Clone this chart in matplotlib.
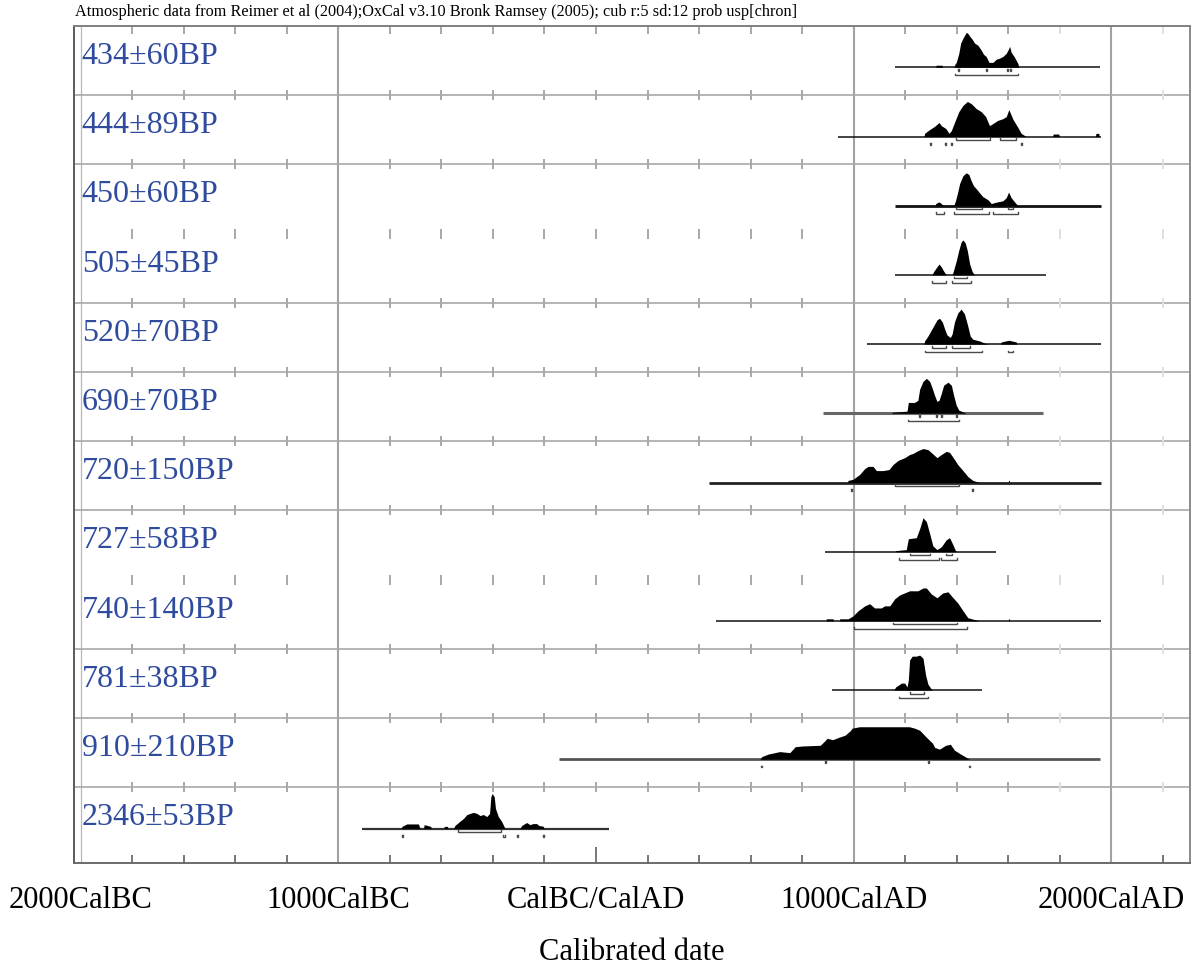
import matplotlib
matplotlib.use("Agg")
import matplotlib.pyplot as plt

# ---------------- data ----------------
labels = ["434±60BP", "444±89BP", "450±60BP", "505±45BP", "520±70BP", "690±70BP",
          "720±150BP", "727±58BP", "740±140BP", "781±38BP", "910±210BP", "2346±53BP"]

d434_years = [1318, 1320, 1343, 1345, 1389, 1393, 1398, 1408, 1415, 1424, 1437, 1443, 1450, 1460,
              1469, 1482, 1495, 1504, 1514, 1525, 1540, 1553, 1566, 1579, 1592, 1600, 1605, 1611,
              1624, 1637, 1641]
d434_prob = [0, .06, .06, 0, 0, .09, .14, .40, .69, .83, 1.0, .97, .89, .80,
             .69, .63, .49, .37, .31, .14, .14, .23, .26, .31, .40, .51, .60, .43,
             .29, .11, 0]

d444_years = [1273, 1275, 1295, 1314, 1331, 1340, 1357, 1370, 1379, 1391, 1408, 1424, 1441, 1456,
              1475, 1495, 1512, 1527, 1540, 1559, 1579, 1592, 1602, 1618, 1637, 1650, 1669,
              1772, 1774, 1796, 1798, 1938, 1940, 1951, 1953]
d444_prob = [0, .09, .20, .29, .40, .31, .23, .09, .17, .40, .71, .89, 1.0, .94,
             .80, .71, .57, .31, .37, .46, .51, .57, .77, .49, .26, .09, 0,
             0, .07, .07, 0, 0, .09, .09, 0]

d450_years = [1316, 1318, 1331, 1340, 1349, 1388, 1395, 1404, 1411, 1424, 1437, 1447, 1456, 1465,
              1475, 1488, 1501, 1521, 1534, 1547, 1559, 1579, 1592, 1601, 1611, 1624, 1637]
d450_prob = [0, .06, .11, .06, 0, 0, .14, .40, .63, .86, .94, .89, .71, .57,
             .49, .37, .26, .17, .06, .09, .11, .14, .23, .39, .23, .11, 0]

d505_years = [1304, 1310, 1320, 1331, 1340, 1349, 1359, 1382, 1388, 1398, 1408, 1417, 1424, 1433,
              1441, 1450, 1460, 1469]
d505_prob = [0, .09, .20, .31, .23, .11, 0, 0, .14, .40, .71, .94, 1.0, .91,
             .69, .31, .09, 0]

d520_years = [1273, 1275, 1288, 1301, 1314, 1323, 1333, 1344, 1353, 1362, 1375, 1382, 1391, 1404,
              1417, 1430, 1443, 1452, 1462, 1488, 1508, 1525, 1570, 1572, 1602, 1631, 1633]
d520_prob = [0, .09, .23, .40, .57, .69, .74, .63, .43, .26, .19, .29, .63, .89,
             1.0, .86, .51, .23, .14, .09, .03, 0, 0, .06, .11, .06, 0]

d690_years = [1148, 1150, 1207, 1212, 1236, 1249, 1256, 1269, 1282, 1295, 1305, 1314, 1323, 1331,
              1340, 1349, 1366, 1379, 1388, 1398, 1408, 1437]
d690_prob = [0, .03, .06, .31, .31, .37, .69, .91, 1.0, .91, .71, .51, .34, .37,
             .57, .80, .89, .80, .51, .23, .09, 0]

d720_years = [976, 978, 997, 1023, 1043, 1056, 1075, 1088, 1114, 1137, 1152, 1172, 1198, 1217,
              1230, 1249, 1269, 1288, 1305, 1323, 1340, 1359, 1372, 1388, 1404, 1424, 1443, 1462,
              1488, 1600, 1601, 1604, 1605]
d720_prob = [0, .06, .09, .23, .40, .46, .46, .34, .34, .37, .51, .63, .71, .80,
             .83, .91, .97, .94, .83, .71, .80, .89, .86, .69, .51, .34, .17, .06,
             0, 0, .06, .06, 0]

d727_years = [1159, 1163, 1204, 1212, 1243, 1256, 1269, 1282, 1295, 1307, 1323, 1340, 1359, 1372,
              1385, 1395, 1400]
d727_prob = [0, .03, .06, .37, .40, .66, .97, .86, .51, .17, .06, .14, .34, .40,
             .20, .03, 0]

d740_years = [892, 894, 920, 922, 944, 946, 978, 997, 1017, 1043, 1062, 1081, 1107, 1120,
              1140, 1159, 1178, 1217, 1249, 1269, 1282, 1301, 1323, 1346, 1366, 1382, 1404, 1424,
              1443, 1488, 1600, 1601, 1604, 1605]
d740_prob = [0, .06, .06, 0, 0, .06, .06, .14, .29, .43, .49, .37, .37, .43,
             .43, .63, .74, .86, .86, .94, .94, .77, .66, .80, .83, .69, .51, .29,
             .09, 0, 0, .06, .06, 0]

d781_years = [1155, 1163, 1185, 1198, 1207, 1212, 1217, 1227, 1243, 1256, 1269, 1279, 1288, 1301,
              1305]
d781_prob = [0, .09, .20, .20, .09, .29, .86, .97, .97, 1.0, .91, .43, .17, .03,
             0]

d910_years = [636, 644, 669, 713, 752, 773, 800, 870, 883, 897, 918, 943, 967, 987,
              994, 1022, 1216, 1236, 1256, 1282, 1306, 1314, 1333, 1357, 1375, 1391, 1417, 1450]
d910_prob = [0, .08, .15, .22, .19, .36, .38, .40, .49, .60, .56, .63, .69, .82,
             .89, .93, .93, .89, .83, .63, .46, .34, .29, .40, .43, .26, .14, 0]

d2346_years = [-755, -753, -734, -689, -683, -669, -667, -641, -639, -590, -589, -576, -575,
               -553, -547, -534, -514, -501, -476, -462, -450, -437, -424, -413, -408, -403,
               -395, -390, -379, -366, -359, -353, -295, -288, -269, -256, -245, -230, -223,
               -204, -202]
d2346_prob = [0, .06, .13, .13, 0, 0, .11, .06, 0, 0, .06, .06, 0,
              0, .09, .17, .29, .40, .46, .43, .37, .40, .34, .43, .91, 1.0,
              .91, .57, .34, .20, .09, 0, 0, .09, .17, .11, .14, .14, .09,
              .06, 0]

curve_years = [d434_years, d444_years, d450_years, d505_years, d520_years, d690_years,
               d720_years, d727_years, d740_years, d781_years, d910_years, d2346_years]
curve_prob = [d434_prob, d444_prob, d450_prob, d505_prob, d520_prob, d690_prob,
              d720_prob, d727_prob, d740_prob, d781_prob, d910_prob, d2346_prob]

# extent of the horizontal line under each distribution (years)
line_start = [1159, 938, 1159, 1159, 1052, 881, 439, 888, 465, 916, -145, -908]
line_end = [1957, 1960, 1960, 1747, 1960, 1733, 1960, 1553, 1960, 1499, 1957, 52]

# ranges (upper and lower bracket rows)
ranges_68 = [
    [(1405, 1409), (1513, 1517), (1595, 1599), (1606, 1610)],
    [(1396, 1527), (1566, 1631)],
    [(1396, 1498), (1599, 1617)],
    [(1388, 1440)],
    [(1304, 1359), (1382, 1452)],
    [(1254, 1258), (1320, 1324), (1338, 1342), (1396, 1400)],
    [(1159, 1408)],
    [(1217, 1298), (1359, 1382)],
    [(1152, 1400)],
    [(1218, 1273)],
    [(888, 892), (1287, 1291)],
    [(-535, -370)],
]
ranges_95 = [
    [(1395, 1636)],
    [(1295, 1299), (1355, 1359), (1377, 1381), (1648, 1652)],
    [(1318, 1350), (1390, 1525), (1542, 1637)],
    [(1304, 1359), (1381, 1456)],
    [(1275, 1498), (1599, 1617)],
    [(1212, 1408)],
    [(989, 993), (1460, 1464)],
    [(1175, 1331), (1338, 1400)],
    [(1001, 1440)],
    [(1176, 1288)],
    [(642, 646), (1447, 1451)],
    [(-751, -747), (-359, -355), (-307, -303), (-204, -200)],
]

tick_positions = [-2000, -1000, 0, 1000, 2000]
tick_labels = ["2000CalBC", "1000CalBC", "CalBC/CalAD", "1000CalAD", "2000CalAD"]
title_text = ("Atmospheric data from Reimer et al (2004);OxCal v3.10 Bronk Ramsey (2005); "
              "cub r:5 sd:12 prob usp[chron]")
xlabel_text = "Calibrated date"

# ---------------- styles ----------------
line_width = [1.1, 1.1, 2.0, 1.1, 1.1, 2.2, 2.0, 1.1, 1.1, 1.1, 2.0, 1.6]
line_color = ["#111111", "#111111", "#111111", "#111111", "#111111", "#666666",
              "#222222", "#111111", "#111111", "#111111", "#555555", "#333333"]
no_line_separators = [3, 8]
SERIF = ["Liberation Serif", "DejaVu Serif"]
BLUE = "#2f4b9e"

W, H = 1193, 974
TOP, BOT, LEFT, RIGHT = 26.0, 862.7, 74.3, 1190.0
ROW = 69.2
PXY = 1.0 / ROW  # one pixel in row units

fig = plt.figure(figsize=(W / 100, H / 100), dpi=100)
ax = fig.add_axes([LEFT / W, 1 - BOT / H, (RIGHT - LEFT) / W, (BOT - TOP) / H])
ax.set_xlim((LEFT - 596) / 0.2577, (RIGHT - 596) / 0.2577)
ymax = (BOT - TOP) / ROW
ax.set_ylim(ymax, 0)

# vertical grid lines
ax.axvline(-2000, color="#b8b8b8", lw=0.9, zorder=1)
for xv in (-1000, 1000, 2000):
    ax.axvline(xv, color="#a2a2a2", lw=1.5, zorder=1)

minor = list(range(-1800, 2201, 200))
minor = [m for m in minor if m not in (-1000, 1000, 2000)]

# horizontal separators with tick marks
for k in range(0, 12):
    if k > 0 and k not in no_line_separators:
        ax.axhline(k, color="#a8a8a8", lw=1.2, zorder=1)
    for m in minor:
        c = "#e0e0e0" if m in (1800, 2200) else "#a8a8a8"
        if k == 0:
            ax.plot([m, m], [0, 8 * PXY], color=c, lw=1.4, zorder=1, solid_capstyle="butt")
        else:
            ax.plot([m, m], [k - 5 * PXY, k + 5 * PXY], color=c, lw=1.4, zorder=1,
                    solid_capstyle="butt")

# bottom ticks
for m in minor:
    ln = 16 if m == 0 else 8
    ax.plot([m, m], [ymax, ymax - ln * PXY], color="#777777", lw=1.4, zorder=1,
            solid_capstyle="butt")

# distributions
for i in range(12):
    base = i + 41.3 * PXY
    ax.plot([line_start[i], line_end[i]], [base, base], color=line_color[i],
            lw=line_width[i], zorder=2, solid_capstyle="butt")
    ys = [base - p * 35 * PXY for p in curve_prob[i]]
    ax.fill_between(curve_years[i], base, ys, color="black", lw=0, zorder=3)
    for lvl, rr in ((3.5, ranges_68[i]), (8.0, ranges_95[i])):
        y = base + lvl * PXY
        for a, b in rr:
            ax.plot([a, a, b, b], [y - 1.6 * PXY, y, y, y - 1.6 * PXY], color="#4a4a4a",
                    lw=1.0, zorder=3, solid_joinstyle="miter")
    ax.text((81.7 - 596) / 0.2577, i + 38 * PXY, labels[i], color=BLUE, fontsize=23,
            family=SERIF, va="baseline", ha="left", zorder=4)

# frame
for side, col in (("left", "#5a5a5a"), ("top", "#808080"), ("bottom", "#6a6a6a"), ("right", "#8a8a8a")):
    ax.spines[side].set_color(col)
    ax.spines[side].set_linewidth(1.4)

ax.set_yticks([])
ax.set_xticks(tick_positions)
ax.set_xticklabels(tick_labels, fontsize=22, family=SERIF)
ax.tick_params(axis="x", length=0, pad=17)
ax.set_xlabel(xlabel_text, fontsize=22, family=SERIF, labelpad=16)

fig.text(75 / W, 1 - 16 / H, title_text, fontsize=11.7, family=SERIF, va="baseline", ha="left")

fig.savefig("out.png", dpi=100)
